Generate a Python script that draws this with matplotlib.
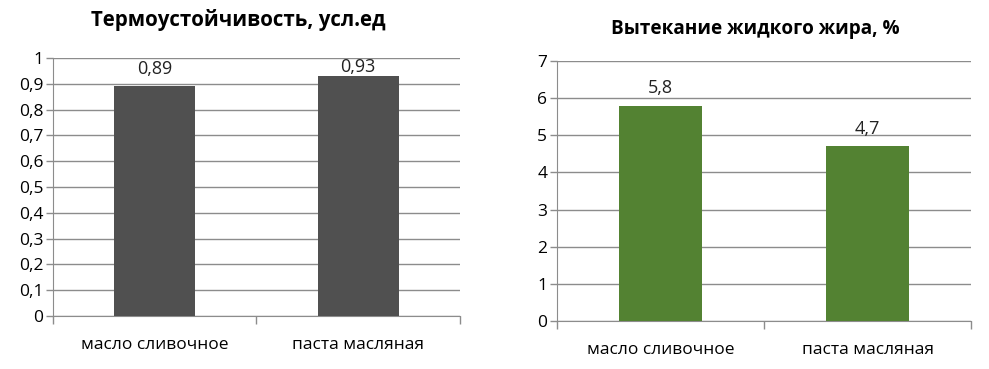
import matplotlib
matplotlib.use("Agg")
import matplotlib.pyplot as plt
from matplotlib.ticker import FuncFormatter, FixedLocator

categories = ["масло сливочное", "паста масляная"]
thermo_values = [0.89, 0.93]
leak_values = [5.8, 4.7]

thermo_ticks = [0, 0.1, 0.2, 0.3, 0.4, 0.5, 0.6, 0.7, 0.8, 0.9, 1]
leak_ticks = [0, 1, 2, 3, 4, 5, 6, 7]

plt.rcParams["font.family"] = ["Open Sans", "DejaVu Sans"]

GRID = "#8c8c8c"


def comma(v, _pos=None):
    s = f"{v:g}"
    return s.replace(".", ",")


def draw_panel(ax, values, ticks, color, title, title_x, title_y, title_size):
    x = list(range(len(categories)))
    ax.bar(x, values, width=0.4, color=color, zorder=3)
    ax.set_xlim(-0.5, len(categories) - 0.5)
    ax.set_ylim(ticks[0], ticks[-1])
    ax.set_yticks(ticks)
    ax.yaxis.set_major_formatter(FuncFormatter(comma))
    ax.grid(axis="y", color=GRID, linewidth=1, zorder=0)

    # category boundary ticks, labels centered under bars
    ax.xaxis.set_major_locator(FixedLocator([-0.5, 0.5, 1.5]))
    ax.set_xticklabels([])
    ax.xaxis.set_minor_locator(FixedLocator(x))
    ax.set_xticklabels(categories, minor=True)
    ax.tick_params(axis="x", which="major", length=6, color=GRID, width=1)
    ax.tick_params(axis="x", which="minor", length=0, pad=15, labelsize=12.5)
    ax.tick_params(axis="y", length=5, color=GRID, width=1, labelsize=12.5, pad=2)

    for side in ("top", "right"):
        ax.spines[side].set_visible(False)
    ax.spines["left"].set_color(GRID)
    ax.spines["bottom"].set_color(GRID)

    top = ticks[-1]
    for xi, v in zip(x, values):
        # keep label inside plot area like the original
        off = 6 if v < 0.9 * top else 0
        ax.annotate(comma(v), (xi, v), xytext=(0, off), textcoords="offset points",
                    ha="center", va="bottom", fontsize=13, color="#222222")

    ax.set_title(title, fontsize=title_size, fontweight="bold", x=title_x, y=title_y)


fig = plt.figure(figsize=(9.89, 3.69), dpi=100)
ax1 = fig.add_axes([0.0536, 0.1436, 0.4115, 0.6992])
ax2 = fig.add_axes([0.5632, 0.1301, 0.4186, 0.7046])

draw_panel(ax1, thermo_values, thermo_ticks, "#505050",
           "Термоустойчивость, усл.ед", 0.455, 1.09, 14.8)
draw_panel(ax2, leak_values, leak_ticks, "#538232",
           "Вытекание жидкого жира, %", 0.478, 1.07, 13.6)

fig.savefig("out.png", dpi=100)
